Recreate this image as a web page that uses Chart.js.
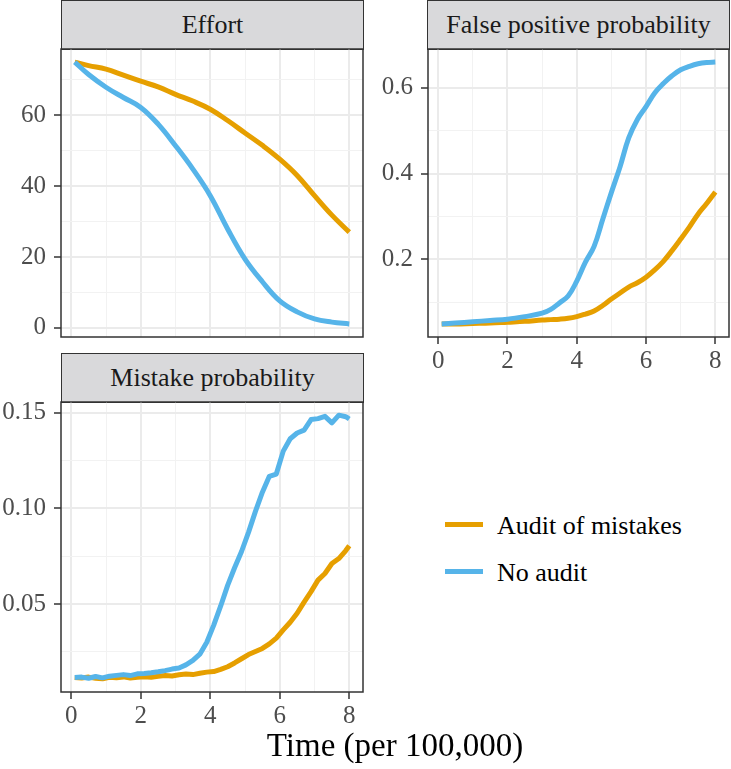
<!DOCTYPE html>
<html>
<head>
<meta charset="utf-8">
<script src="https://cdn.jsdelivr.net/npm/chart.js@4.4.1/dist/chart.umd.min.js"></script>
<style>
	body { margin: 0; background: #fff; font-family: "Liberation Serif", "Times New Roman", serif; }
	#page { position: relative; width: 731px; height: 769px; overflow: hidden; }
	canvas { position: absolute; }
	.strip { position: absolute; box-sizing: border-box; height: 50px; border: 1.5px solid #333; background: #D9D9DB;
		color: #1A1A1A; font-size: 26px; text-align: center; line-height: 47px; font-family: "Liberation Serif", serif; }
	.legendRow { position: absolute; left: 445px; height: 26px; font-size: 26px; line-height: 26px; color: #000; white-space: nowrap; }
	.legendKey { position: absolute; left: 0; top: 9px; width: 38px; height: 5px; }
	.legendText { position: absolute; left: 52px; top: 0; }
	#xTitle { position: absolute; left: 61px; width: 668px; top: 729px; text-align: center; font-size: 33px; line-height: 33px; color: #000; }
</style>
</head>
<body>
<div id="page">
	<div class="strip" style="left:61px; top:0px; width:303px;">Effort</div>
	<div class="strip" style="left:427px; top:0px; width:303px;">False positive probability</div>
	<div class="strip" style="left:61px; top:353px; width:303px;">Mistake probability</div>
	<canvas id="effortChart" width="366" height="290" style="left:0px; top:48px;"></canvas>
	<canvas id="falsePosChart" width="365" height="326" style="left:366px; top:48px;"></canvas>
	<canvas id="mistakeChart" width="366" height="330" style="left:0px; top:401px;"></canvas>
	<div id="legend"></div>
	<div id="xTitle">Time (per 100,000)</div>
</div>
<script>
	var seriesNames = ['Audit of mistakes', 'No audit'];
	var seriesColors = ['#E69F00', '#56B4E9'];

	var timeTicks = [0, 2, 4, 6, 8];
	var timeTickLabels = ['0', '2', '4', '6', '8'];

	// Effort panel
	var effortTime = [0.1, 0.5, 1, 1.5, 2, 2.5, 3, 3.5, 4, 4.5, 5, 5.5, 6, 6.5, 7, 7.5, 8];
	var effortAudit = [75.0, 74.0, 73.0, 71.3, 69.6, 68.0, 65.9, 64.0, 61.7, 58.5, 55.0, 51.5, 47.6, 43.0, 37.3, 31.8, 27.0];
	var effortNoAudit = [75.0, 71.5, 67.9, 65.0, 62.2, 57.5, 51.4, 44.8, 37.3, 27.9, 19.4, 13.0, 7.6, 4.5, 2.5, 1.6, 1.1];
	var effortTicks = [0, 20, 40, 60];
	var effortTickLabels = ['0', '20', '40', '60'];

	// False positive panel
	var fpTime = [0.1, 0.5, 1, 1.5, 2, 2.5, 3, 3.25, 3.5, 3.75, 4, 4.25, 4.5, 4.75, 5, 5.25, 5.5, 5.75, 6, 6.25, 6.5, 6.75, 7, 7.25, 7.5, 7.75, 8];
	var fpAudit = [0.049, 0.049, 0.050, 0.051, 0.053, 0.055, 0.058, 0.059, 0.060, 0.062, 0.066, 0.072, 0.079, 0.092, 0.107, 0.121, 0.135, 0.145, 0.158, 0.175, 0.195, 0.220, 0.247, 0.275, 0.305, 0.330, 0.357];
	var fpNoAudit = [0.049, 0.051, 0.054, 0.057, 0.060, 0.066, 0.074, 0.083, 0.098, 0.114, 0.149, 0.193, 0.230, 0.293, 0.356, 0.416, 0.483, 0.526, 0.556, 0.588, 0.610, 0.628, 0.642, 0.650, 0.656, 0.659, 0.660];
	var fpTicks = [0.2, 0.4, 0.6];
	var fpTickLabels = ['0.2', '0.4', '0.6'];

	// Mistake panel
	var mistakeTime = [0.1, 0.3, 0.5, 0.7, 0.9, 1.1, 1.3, 1.5, 1.7, 1.9, 2.1, 2.3, 2.5, 2.7, 2.9, 3.1, 3.3, 3.5, 3.7, 3.9,
		4.1, 4.3, 4.5, 4.7, 4.9, 5.1, 5.3, 5.5, 5.7, 5.9, 6.1, 6.3, 6.5, 6.7, 6.9, 7.1, 7.3, 7.5, 7.7, 7.9, 8.0];
	var mistakeAudit = [0.0116, 0.0113, 0.0118, 0.0112, 0.0109, 0.0117, 0.0114, 0.0119, 0.0113, 0.0117, 0.0120, 0.0117, 0.0122, 0.0126, 0.0124, 0.0130, 0.0134, 0.0131, 0.0138, 0.0144,
		0.0147, 0.0158, 0.0172, 0.0192, 0.0214, 0.0236, 0.0252, 0.0268, 0.0292, 0.0322, 0.0365, 0.0405, 0.0452, 0.0510, 0.0565, 0.0625, 0.0660, 0.0712, 0.0738, 0.0780, 0.0805];
	var mistakeNoAudit = [0.0116, 0.0118, 0.0112, 0.0121, 0.0114, 0.0123, 0.0127, 0.0131, 0.0126, 0.0135, 0.0137, 0.0141, 0.0146, 0.0152, 0.0160, 0.0166, 0.0182, 0.0205, 0.0238, 0.0300,
		0.0390, 0.0490, 0.0598, 0.0690, 0.0775, 0.0875, 0.0985, 0.1085, 0.1168, 0.1180, 0.1300, 0.1365, 0.1395, 0.1410, 0.1465, 0.1470, 0.1482, 0.1448, 0.1488, 0.1480, 0.1468];
	var mistakeTicks = [0.05, 0.10, 0.15];
	var mistakeTickLabels = ['0.05', '0.10', '0.15'];

	Chart.defaults.font.family = "'Liberation Serif', serif";

	// ggplot style expansion of 5% on both sides
	function expand(arrays) {
		var all = [].concat.apply([], arrays);
		var lo = Math.min.apply(null, all), hi = Math.max.apply(null, all);
		var pad = (hi - lo) * 0.05;
		return { min: lo - pad, max: hi + pad };
	}

	function isIn(list, v) {
		for (var i = 0; i < list.length; i++) {
			if (Math.abs(list[i] - v) < 1e-9) return i;
		}
		return -1;
	}

	// majors plus minor lines half way between them
	function setTicks(majors) {
		return function(scale) {
			var step = majors[1] - majors[0];
			var vals = majors.slice();
			for (var i = -1; i < majors.length; i++) {
				var m = (i < 0 ? majors[0] - step / 2 : majors[i] + step / 2);
				if (m >= scale.min && m <= scale.max) vals.push(m);
			}
			vals.sort(function(a, b) { return a - b; });
			scale.ticks = vals.map(function(v) { return { value: v }; });
		};
	}

	function makeAxis(range, majors, labels, showLabels, size, horizontal) {
		return {
			type: 'linear',
			min: range.min,
			max: range.max,
			afterBuildTicks: setTicks(majors),
			afterFit: function(scale) {
				if (horizontal) scale.height = size; else scale.width = size;
				// labels may hang over the panel edge, like in ggplot
				scale.paddingTop = 0;
				scale.paddingBottom = 0;
				scale.paddingLeft = 0;
				scale.paddingRight = 0;
			},
			border: { display: false },
			grid: {
				color: function(c) {
					if (!c.tick) return '#333333';
					return isIn(majors, c.tick.value) >= 0 ? '#EBEBEB' : '#F2F2F2';
				},
				lineWidth: function(c) {
					if (!c.tick) return 1;
					return isIn(majors, c.tick.value) >= 0 ? 2 : 1;
				},
				drawTicks: showLabels,
				tickLength: 7,
				tickWidth: 1.5,
				tickColor: function(c) {
					if (!c.tick) return 'rgba(0,0,0,0)';
					return isIn(majors, c.tick.value) >= 0 ? '#333333' : 'rgba(0,0,0,0)';
				}
			},
			ticks: {
				display: showLabels,
				autoSkip: false,
				maxRotation: 0,
				color: '#4D4D4D',
				font: { size: 25 },
				padding: horizontal ? 2 : 8,
				callback: function(v) {
					var i = isIn(majors, v);
					return i >= 0 ? labels[i] : '';
				}
			}
		};
	}

	var panelBorder = {
		id: 'panelBorder',
		afterDatasetsDraw: function(chart) {
			var a = chart.chartArea, ctx = chart.ctx;
			ctx.save();
			ctx.strokeStyle = '#333333';
			ctx.lineWidth = 1.5;
			ctx.strokeRect(a.left, a.top, a.right - a.left, a.bottom - a.top);
			ctx.restore();
		}
	};

	function toPoints(xs, ys) {
		return xs.map(function(x, i) { return { x: x, y: ys[i] }; });
	}

	function makePanel(id, xs, audit, noAudit, yTicks, yLabels, opts) {
		var xRange = expand([effortTime, fpTime, mistakeTime]);
		var yRange = expand([audit, noAudit]);
		return new Chart(document.getElementById(id), {
			type: 'line',
			data: {
				datasets: [
					{ label: seriesNames[0], data: toPoints(xs, audit), borderColor: seriesColors[0], order: 1 },
					{ label: seriesNames[1], data: toPoints(xs, noAudit), borderColor: seriesColors[1], order: 0 }
				]
			},
			options: {
				responsive: false,
				animation: false,
				devicePixelRatio: 1,
				layout: { padding: opts.padding },
				elements: {
					point: { radius: 0 },
					line: { borderWidth: 5, tension: opts.tension, borderCapStyle: 'butt', borderJoinStyle: 'round', fill: false }
				},
				plugins: { legend: { display: false }, tooltip: { enabled: false } },
				scales: {
					x: makeAxis(xRange, timeTicks, timeTickLabels, opts.xLabels, opts.xHeight, true),
					y: makeAxis(yRange, yTicks, yLabels, true, opts.yWidth, false)
				}
			},
			plugins: [panelBorder]
		});
	}

	makePanel('effortChart', effortTime, effortAudit, effortNoAudit, effortTicks, effortTickLabels,
		{ padding: { top: 1, right: 3, bottom: 1, left: 0 }, xLabels: false, xHeight: 0, yWidth: 61, tension: 0.4 });
	makePanel('falsePosChart', fpTime, fpAudit, fpNoAudit, fpTicks, fpTickLabels,
		{ padding: { top: 1, right: 2, bottom: 0, left: 0 }, xLabels: true, xHeight: 37, yWidth: 62, tension: 0.4 });
	makePanel('mistakeChart', mistakeTime, mistakeAudit, mistakeNoAudit, mistakeTicks, mistakeTickLabels,
		{ padding: { top: 1, right: 3, bottom: 0, left: 0 }, xLabels: true, xHeight: 39, yWidth: 61, tension: 0 });

	// legend
	var legend = document.getElementById('legend');
	seriesNames.forEach(function(name, i) {
		var row = document.createElement('div');
		row.className = 'legendRow';
		row.style.top = (513 + i * 47) + 'px';
		row.innerHTML = '<span class="legendKey" style="background:' + seriesColors[i] + '"></span>' +
			'<span class="legendText">' + name + '</span>';
		legend.appendChild(row);
	});
</script>
</body>
</html>
